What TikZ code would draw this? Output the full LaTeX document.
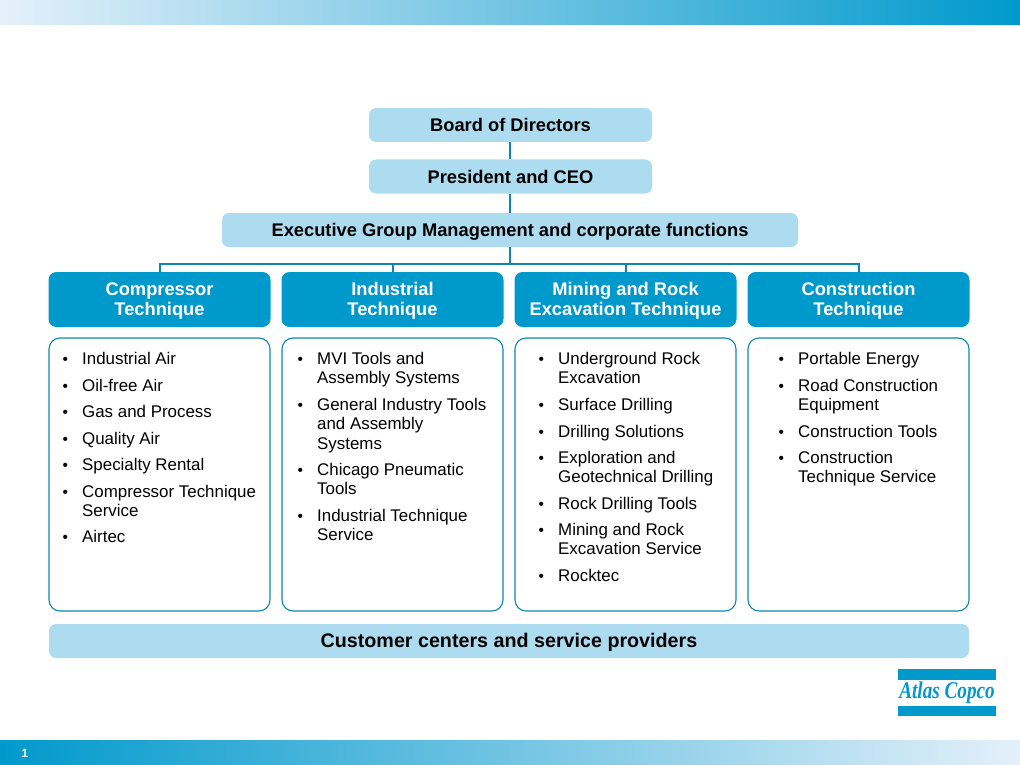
\documentclass[tikz,border=0pt]{standalone}
\usepackage{fontspec}
\setmainfont{Liberation Sans}
\newfontfamily\logofont{Liberation Serif}
\definecolor{acblue}{HTML}{0099CC}
\definecolor{aclight}{HTML}{ADDCF0}
\definecolor{acline}{HTML}{0F86B0}
\definecolor{acpale}{HTML}{E4F0FA}
\newcommand{\topfix}{\rule{0pt}{14pt}}
\newcommand{\headfix}{\rule{0pt}{16.5pt}}
\tikzset{
  x=1pt,y=-1pt,
  lightbox/.style={fill=aclight,draw=none,rounded corners=7pt,font=\fontsize{18.3}{20}\selectfont\bfseries,text=black,inner sep=0pt,text height=17.6pt,text depth=4pt},
  headbox/.style={fill=acblue,draw=none,rounded corners=8pt,font=\fontsize{18.3}{20}\selectfont\bfseries,text=white,align=center,minimum width=222pt,minimum height=55pt,inner sep=0pt},
  listbox/.style={draw=acline,line width=1.1pt,fill=white,rounded corners=11pt,minimum width=221pt,minimum height=273pt,inner sep=0pt},
  link/.style={draw=acline,line width=2pt},
  entry/.style={font=\fontsize{16.9}{19.5}\selectfont,align=left,anchor=north west,inner sep=0pt,text=black},
  dot/.style={font=\fontsize{15.5}{19.5}\selectfont,anchor=north west,inner sep=0pt,text=black}
}
\newcommand{\li}[3]{% x, y, text
  \node[dot] at (#1-19.5,#2+1) {\topfix\textbullet};
  \node[entry] at (#1,#2+1) {\topfix#3};
}
\begin{document}
\begin{tikzpicture}
\useasboundingbox (0,0) rectangle (1020,765);
% bars
\shade[left color=acpale,right color=acblue] (0,0) rectangle (1020,25);
\shade[left color=acblue,right color=acpale] (0,740) rectangle (1020,765);
\node[font=\fontsize{12}{13}\selectfont\bfseries,text=white,inner sep=0pt] (pageno) at (25,753.5) {1};
% top boxes
\node[lightbox,minimum width=283pt,minimum height=34pt] (board) at (510.5,125) {Board of Directors};
\node[lightbox,minimum width=283pt,minimum height=34pt] (ceo) at (510.5,176.5) {President and CEO};
\node[lightbox,minimum width=576pt,minimum height=34pt] (exec) at (510,230) {Executive Group Management and corporate functions};
% headers
\node[headbox] (h1) at (159.5,299.5) {\headfix Compressor\\Technique};
\node[headbox] (h2) at (392.5,299.5) {\headfix Industrial\\Technique};
\node[headbox] (h3) at (625.5,299.5) {\headfix Mining and Rock\\Excavation Technique};
\node[headbox] (h4) at (858.5,299.5) {\headfix Construction\\Technique};
% connectors
\coordinate (bus) at (exec.south |- 0,264);
\draw[link] (board.south -| exec.north) -- (ceo.north -| exec.north);
\draw[link] (ceo.south -| exec.north) -- (exec.north);
\draw[link] (exec.south) -- (bus);
\draw[link] (h1.north) |- (bus);
\draw[link] (h4.north) |- (bus);
\draw[link] (h2.north) -- (h2.north |- bus);
\draw[link] (h3.north) -- (h3.north |- bus);
% list boxes
\node[listbox] (l1) at (159.5,474.5) {};
\node[listbox] (l2) at (392.5,474.5) {};
\node[listbox] (l3) at (625.5,474.5) {};
\node[listbox] (l4) at (858.5,474.5) {};
% list 1
\li{82}{349}{Industrial Air}
\li{82}{376}{Oil-free Air}
\li{82}{402}{Gas and Process}
\li{82}{429}{Quality Air}
\li{82}{455}{Specialty Rental}
\li{82}{482}{Compressor Technique\\Service}
\li{82}{527}{Airtec}
% list 2
\li{317}{349}{MVI Tools and\\Assembly Systems}
\li{317}{395}{General Industry Tools\\and Assembly\\Systems}
\li{317}{460}{Chicago Pneumatic\\Tools}
\li{317}{506}{Industrial Technique\\Service}
% list 3
\li{558}{349}{Underground Rock\\Excavation}
\li{558}{395}{Surface Drilling}
\li{558}{422}{Drilling Solutions}
\li{558}{448}{Exploration and\\Geotechnical Drilling}
\li{558}{494}{Rock Drilling Tools}
\li{558}{520}{Mining and Rock\\Excavation Service}
\li{558}{566}{Rocktec}
% list 4
\li{798}{349}{Portable Energy}
\li{798}{376}{Road Construction\\Equipment}
\li{798}{422}{Construction Tools}
\li{798}{448}{Construction\\Technique Service}
% bottom
\node[lightbox,minimum width=920pt,minimum height=34pt,font=\fontsize{19.7}{21}\selectfont\bfseries] (cust) at (509,641) {Customer centers and service providers};
% logo
\fill[acblue] (898,669) rectangle (996,680);
\fill[acblue] (898,706) rectangle (996,716);
\node[font=\logofont\fontsize{24}{24}\selectfont\bfseries\itshape,text=acblue,inner sep=0pt] (logo) at (947,693) {\scalebox{.8}[1]{Atlas Copco}};
\end{tikzpicture}
\end{document}
